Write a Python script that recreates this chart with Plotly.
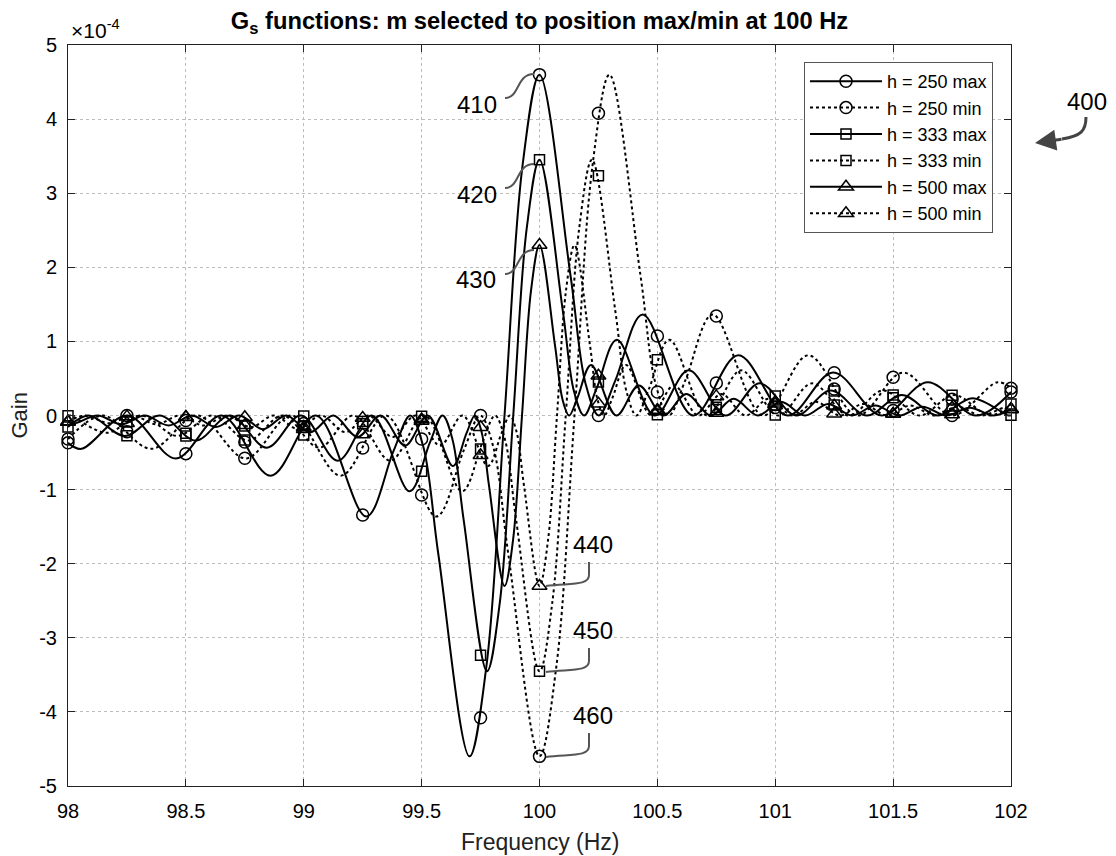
import plotly.graph_objects as go

# marker positions (every 0.25 Hz)
freq_marks = [98.0, 98.25, 98.5, 98.75, 99.0, 99.25, 99.5, 99.75, 100.0,
              100.25, 100.5, 100.75, 101.0, 101.25, 101.5, 101.75, 102.0]

# gain values are in units of 1e-4
# h = 250 max
h250max_x = [98.0, 98.0561, 98.2516, 98.4574, 98.6516, 98.8598, 99.0516, 99.2654, 99.3805, 99.4516,
             99.5078, 99.5715, 99.7032, 99.7752, 99.8516, 99.928, 100.0, 100.1317, 100.1954, 100.2516,
             100.3227, 100.4378, 100.6516, 100.8434, 101.0516, 101.2458, 101.4516, 101.6471, 101.8516, 102.0]
h250max_y = [-0.369, -0.450, 0, -0.579, 0, -0.812, 0, -1.363, -0.482, 0,
             -0.430, -1.886, -4.600, -3.373, 0, 3.373, 4.600, 1.886, 0.430, 0,
             0.482, 1.363, 0, 0.812, 0, 0.579, 0, 0.450, 0, 0.318]
h250max_marks = [-0.369, 0.0, -0.515, -0.358, -0.147, -1.343, -0.317, -4.080, 4.600,
                 0.0, 1.074, 0.438, 0.109, 0.578, 0.067, 0.218, 0.318]

# h = 250 min
h250min_x = [98.0, 98.1484, 98.3529, 98.5484, 98.7542, 98.9484, 99.1566, 99.3484, 99.5622, 99.6773,
             99.7484, 99.8046, 99.8683, 100.0, 100.072, 100.1484, 100.2248, 100.2968, 100.4285, 100.4922,
             100.5484, 100.6195, 100.7346, 100.9484, 101.1402, 101.3484, 101.5426, 101.7484, 101.9439, 102.0]
h250min_y = [-0.318, 0, -0.450, 0, -0.579, 0, -0.812, 0, -1.363, -0.482,
             0, -0.430, -1.886, -4.600, -3.373, 0, 3.373, 4.600, 1.886, 0.430,
             0, 0.482, 1.363, 0, 0.812, 0, 0.579, 0, 0.450, 0.369]
h250min_marks = [-0.318, -0.218, -0.067, -0.578, -0.109, -0.438, -1.074, 0.0, -4.600,
                 4.080, 0.317, 1.343, 0.147, 0.358, 0.515, 0.0, 0.369]

# h = 333 max
h333max_x = [98.0, 98.0887, 98.2414, 98.3887, 98.5421, 98.6887, 98.8431, 98.9887, 99.1448, 99.2887,
             99.449, 99.5354, 99.5887, 99.6309, 99.6786, 99.7774, 99.8314, 99.8887, 99.946, 100.0,
             100.0988, 100.1465, 100.1887, 100.242, 100.3284, 100.4887, 100.6326, 100.7887, 100.9343, 101.0887,
             101.2353, 101.3887, 101.536, 101.6887, 101.8363, 101.9887, 102.0]
h333max_y = [-0.154, 0, -0.276, 0, -0.338, 0, -0.434, 0, -0.609, 0,
             -1.023, -0.362, 0, -0.323, -1.416, -3.453, -2.532, 0, 2.532, 3.453,
             1.416, 0.323, 0, 0.362, 1.023, 0, 0.609, 0, 0.434, 0,
             0.338, 0, 0.276, 0, 0.234, 0, 0.003]
h333max_marks = [-0.154, -0.274, -0.277, -0.143, -0.007, -0.111, -0.751, -3.236, 3.453,
                 0.452, 0.010, 0.082, 0.263, 0.330, 0.239, 0.088, 0.003]

# h = 333 min
h333min_x = [98.0, 98.0113, 98.1637, 98.3113, 98.464, 98.6113, 98.7647, 98.9113, 99.0657, 99.2113,
             99.3674, 99.5113, 99.6716, 99.758, 99.8113, 99.8535, 99.9012, 100.0, 100.054, 100.1113,
             100.1686, 100.2226, 100.3214, 100.3691, 100.4113, 100.4646, 100.551, 100.7113, 100.8552, 101.0113,
             101.1569, 101.3113, 101.4579, 101.6113, 101.7586, 101.9113, 102.0]
h333min_y = [-0.003, 0, -0.234, 0, -0.276, 0, -0.338, 0, -0.434, 0,
             -0.609, 0, -1.023, -0.362, 0, -0.323, -1.416, -3.453, -2.532, 0,
             2.532, 3.453, 1.416, 0.323, 0, 0.362, 1.023, 0, 0.609, 0,
             0.434, 0, 0.338, 0, 0.276, 0, 0.154]
h333min_marks = [-0.003, -0.088, -0.239, -0.330, -0.263, -0.082, -0.010, -0.452, -3.453,
                 3.236, 0.751, 0.111, 0.007, 0.143, 0.277, 0.274, 0.154]

# h = 500 max
h500max_x = [98.0, 98.0269, 98.1258, 98.227, 98.3258, 98.4271, 98.5258, 98.6274, 98.7258, 98.8276,
             98.9258, 99.0281, 99.1258, 99.2287, 99.3258, 99.4299, 99.5258, 99.6327, 99.6902, 99.7258,
             99.7539, 99.7857, 99.8516, 99.8876, 99.9258, 99.964, 100.0, 100.0659, 100.0977, 100.1258,
             100.1613, 100.2189, 100.3258, 100.4217, 100.5258, 100.6229, 100.7258, 100.8235, 100.9258, 101.024,
             101.1258, 101.2242, 101.3258, 101.4245, 101.5258, 101.6247, 101.7258, 101.8247, 101.9258, 102.0]
h500max_y = [-0.089, -0.106, 0, -0.119, 0, -0.135, 0, -0.156, 0, -0.184,
             0, -0.225, 0, -0.289, 0, -0.406, 0, -0.681, -0.241, 0,
             -0.215, -0.943, -2.300, -1.686, 0, 1.686, 2.300, 0.943, 0.215, 0,
             0.241, 0.681, 0, 0.406, 0, 0.289, 0, 0.225, 0, 0.184,
             0, 0.156, 0, 0.135, 0, 0.119, 0, 0.106, 0, 0.082]
h500max_marks = [-0.089, -0.104, -0.022, -0.024, -0.184, -0.258, -0.074, -0.158, 2.300,
                 0.537, 0.055, 0.034, 0.159, 0.132, 0.020, 0.015, 0.082]

# h = 500 min
h500min_x = [98.0, 98.0742, 98.1753, 98.2742, 98.3753, 98.4742, 98.5755, 98.6742, 98.7758, 98.8742,
             98.976, 99.0742, 99.1765, 99.2742, 99.3771, 99.4742, 99.5783, 99.6742, 99.7811, 99.8387,
             99.8742, 99.9023, 99.9341, 100.0, 100.036, 100.0742, 100.1124, 100.1484, 100.2143, 100.2461,
             100.2742, 100.3098, 100.3673, 100.4742, 100.5701, 100.6742, 100.7713, 100.8742, 100.9719, 101.0742,
             101.1724, 101.2742, 101.3726, 101.4742, 101.5729, 101.6742, 101.773, 101.8742, 101.9731, 102.0]
h500min_y = [-0.082, 0, -0.106, 0, -0.119, 0, -0.135, 0, -0.156, 0,
             -0.184, 0, -0.225, 0, -0.289, 0, -0.406, 0, -0.681, -0.241,
             0, -0.215, -0.943, -2.300, -1.686, 0, 1.686, 2.300, 0.943, 0.215,
             0, 0.241, 0.681, 0, 0.406, 0, 0.289, 0, 0.225, 0,
             0.184, 0, 0.156, 0, 0.135, 0, 0.119, 0, 0.106, 0.089]
h500min_marks = [-0.082, -0.015, -0.020, -0.132, -0.159, -0.034, -0.055, -0.537, -2.300,
                 0.158, 0.074, 0.258, 0.184, 0.024, 0.022, 0.104, 0.089]

x_ticks = [98, 98.5, 99, 99.5, 100, 100.5, 101, 101.5, 102]
y_ticks = [-5, -4, -3, -2, -1, 0, 1, 2, 3, 4, 5]
y_tick_labels = ["-5", "-4", "-3", "-2", "-1", "0", "1", "2", "3", "4", "5"]

series = [
    ("h = 250 max", h250max_x, h250max_y, h250max_marks, "solid", "circle-open", 12),
    ("h = 250 min", h250min_x, h250min_y, h250min_marks, "dot", "circle-open", 12),
    ("h = 333 max", h333max_x, h333max_y, h333max_marks, "solid", "square-open", 10),
    ("h = 333 min", h333min_x, h333min_y, h333min_marks, "dot", "square-open", 10),
    ("h = 500 max", h500max_x, h500max_y, h500max_marks, "solid", "triangle-up-open", 13),
    ("h = 500 min", h500min_x, h500min_y, h500min_marks, "dot", "triangle-up-open", 13),
]

FONT = "Arial, Liberation Sans, Helvetica, sans-serif"
L, R, T, B = 68, 1011, 45, 786   # plot area in pixels


def to_data(px, py):
    return 98 + (px - L) / (R - L) * 4, 5 - (py - T) / (B - T) * 10


def to_paper(px, py):
    return (px - L) / (R - L), (B - py) / (B - T)


def path(cmds, conv):
    out = []
    for c, pts in cmds:
        out.append(c + " " + " ".join("%.5f,%.5f" % conv(*p) for p in pts))
    return " ".join(out)


fig = go.Figure()

for name, xs, ys, marks, dash, symbol, size in series:
    fig.add_trace(go.Scatter(
        x=xs, y=ys, mode="lines",
        line=dict(color="black", width=2, dash=dash, shape="spline"),
        showlegend=False, hoverinfo="skip"))
    fig.add_trace(go.Scatter(
        x=freq_marks, y=marks, mode="markers", cliponaxis=False,
        marker=dict(symbol=symbol, size=size, color="black", line=dict(width=1.5, color="black")),
        showlegend=False))
    # legend entry
    fig.add_trace(go.Scatter(
        x=[None], y=[None], mode="lines+markers", name=name,
        line=dict(color="black", width=2, dash=dash),
        marker=dict(symbol=symbol, size=size, color="black", line=dict(width=1.5, color="black"))))

# callout numbers
callouts = [("410", 477, 104), ("420", 477, 194), ("430", 476, 279),
            ("440", 593, 544), ("450", 593, 630), ("460", 593, 715)]
annotations = []
for txt, px, py in callouts:
    x, y = to_data(px, py)
    annotations.append(dict(x=x, y=y, text=txt, showarrow=False, xref="x", yref="y",
                            xanchor="center", yanchor="middle",
                            font=dict(size=24, color="black", family=FONT)))


def paper_text(txt, px, py, size, color="black", **kw):
    x, y = to_paper(px, py)
    d = dict(x=x, y=y, xref="paper", yref="paper", text=txt, showarrow=False,
             xanchor="center", yanchor="middle", font=dict(size=size, color=color, family=FONT))
    d.update(kw)
    return d


annotations.append(paper_text("400", 1087, 102, 24))
annotations.append(paper_text("\u00d710<sup>-4</sup>", 69, 44, 21, xanchor="left", yanchor="bottom"))
annotations.append(paper_text("Frequency (Hz)", 539.5, 842, 23, color="#222"))
annotations.append(paper_text("Gain", 19, 415.5, 22, color="#222", textangle=-90))
# arrow head of the "400" pointer
tip = to_paper(1035, 143)
annotations.append(dict(x=tip[0], y=tip[1], xref="paper", yref="paper", text="",
                        showarrow=True, arrowhead=2, arrowsize=1.4, arrowwidth=3, arrowcolor="#444",
                        axref="pixel", ayref="pixel", ax=28, ay=-4, standoff=0))

shapes = []
lead = dict(color="#555", width=2)
for y0 in (98, 188, 274):
    shapes.append(dict(type="path", xref="x", yref="y", line=lead,
                       path=path([("M", [(505, y0)]),
                                  ("C", [(520, y0), (516, y0 - 24), (534, y0 - 24)])], to_data)))
for y0 in (562, 648, 733):
    shapes.append(dict(type="path", xref="x", yref="y", line=lead,
                       path=path([("M", [(589, y0)]), ("L", [(589, y0 + 13)]),
                                  ("C", [(589, y0 + 24), (570, y0 + 21), (546, y0 + 24)])], to_data)))
# "400" pointer tail
shapes.append(dict(type="path", xref="paper", yref="paper", line=dict(color="#444", width=3),
                   path=path([("M", [(1086, 117)]),
                              ("C", [(1086, 131), (1081, 136), (1062, 139)])], to_paper)))

axis_style = dict(showgrid=True, gridcolor="#bdbdbd", griddash="dot", gridwidth=1,
                  zeroline=False, showline=True, linecolor="#222", linewidth=1, mirror="ticks",
                  ticks="inside", ticklen=7, tickcolor="#222",
                  tickfont=dict(size=20, color="black", family=FONT))

fig.update_layout(
    width=1116, height=856,
    margin=dict(l=L, r=1116 - R, t=T, b=856 - B),
    paper_bgcolor="white", plot_bgcolor="white",
    font=dict(family=FONT, color="black"),
    title=dict(text="<b>G<sub>s</sub> functions: m selected to position max/min at 100 Hz</b>",
               x=0.5, xref="paper", xanchor="center", y=1 - 21 / 856, yanchor="middle",
               font=dict(size=23.7, color="black", family=FONT)),
    xaxis=dict(range=[98, 102], tickvals=x_ticks, ticklabelstandoff=7, **axis_style),
    yaxis=dict(range=[-5, 5], tickvals=y_ticks, ticktext=y_tick_labels, ticklabelstandoff=6, **axis_style),
    legend=dict(x=to_paper(993, 0)[0], y=to_paper(0, 62)[1], xanchor="right", yanchor="top",
                bgcolor="white", bordercolor="#555", borderwidth=1, itemwidth=72,
                font=dict(size=18, color="black", family=FONT), tracegroupgap=0),
    annotations=annotations,
    shapes=shapes,
    showlegend=True,
)

# page body has a default 8px margin; remove it so the figure fills the window
fig.write_html("out.html", config={"displayModeBar": False},
               post_script="document.body.style.margin='0px';")
